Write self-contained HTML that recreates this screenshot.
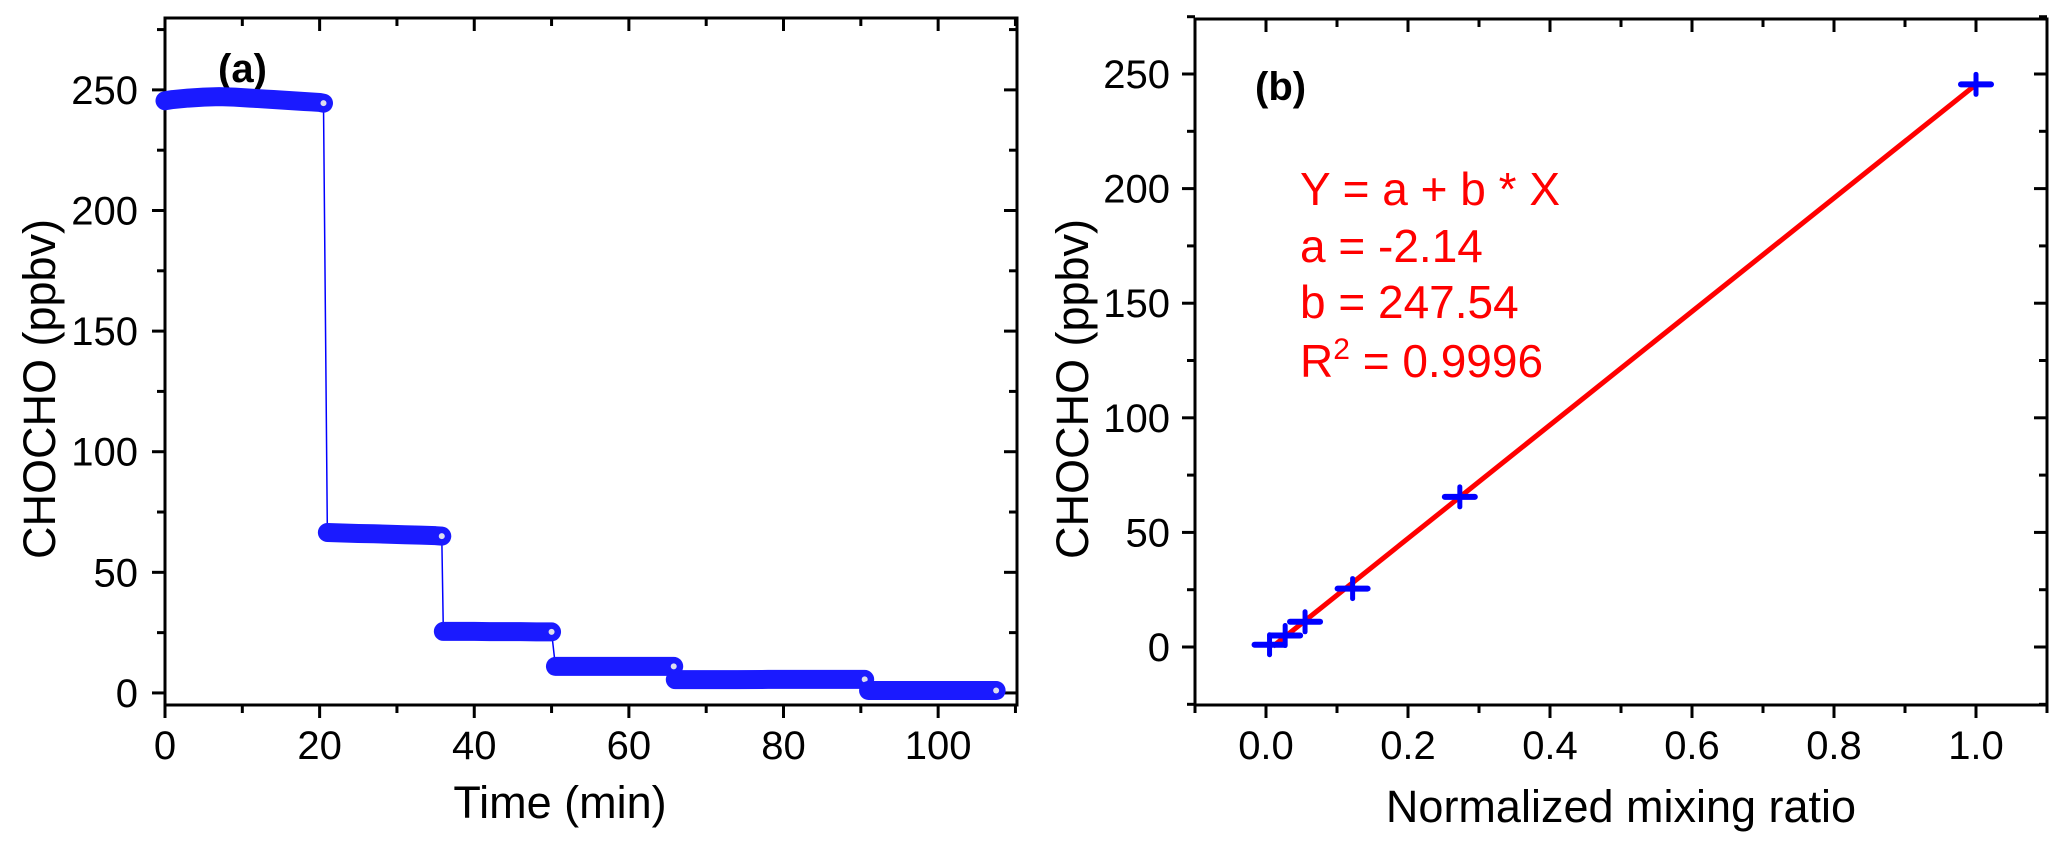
<!DOCTYPE html>
<html><head><meta charset="utf-8"><style>
body{margin:0;background:#fff;}
svg{display:block;font-family:"Liberation Sans",Arial,sans-serif;}
</style></head><body>
<svg id="chart" width="2067" height="848" viewBox="0 0 2067 848" xmlns="http://www.w3.org/2000/svg">
<rect width="2067" height="848" fill="#fff"/>
<g id="pa"></g>
<g id="pb"></g>
</svg>
<script>
// Panel (a) data: time series segments
const segT1=[0,1,2,3,4,5,6,7,8,9,10,11,12,13,14,15,16,17,18,19,20,20.5];
const segV1=[245.5,246,246.3,246.6,246.8,247,247.1,247.2,247.1,247,246.8,246.6,246.4,246.2,246,245.8,245.6,245.4,245.2,245,244.8,244.5];
const segT2=[21,23,25,27,29,31,33,35,35.8];
const segV2=[66.5,66.3,66.1,66,65.8,65.6,65.4,65.2,65];
const segT3=[36,38,40,42,44,46,48,50];
const segV3=[25.5,25.5,25.5,25.4,25.4,25.4,25.3,25.3];
const segT4=[50.5,53,56,59,62,65,65.8];
const segV4=[11,11,11,11,11,11,11];
const segT5=[66,70,74,78,82,86,90.5];
const segV5=[5.5,5.5,5.5,5.6,5.6,5.6,5.6];
const segT6=[91,94,97,100,103,106,107.5];
const segV6=[1,1,1,1,1,1,1];
const aXTicks=[0,20,40,60,80,100];
const aYTicks=[0,50,100,150,200,250];
// Panel (b) data
const bX=[0.005,0.027,0.055,0.122,0.273,1.0];
const bY=[1,5,11,25.5,65.5,245.5];
const fitA=-2.14, fitB=247.54;
const bXTicks=[0.0,0.2,0.4,0.6,0.8,1.0];
const bYTicks=[0,50,100,150,200,250];

const NS="http://www.w3.org/2000/svg";
function mk(parent,tag,attrs,text){const e=document.createElementNS(NS,tag);for(const k in attrs)e.setAttribute(k,attrs[k]);if(text!==undefined)e.textContent=text;parent.appendChild(e);return e;}
const TF=40, TT=45;

// Panel A axes
const aL=165,aR=1017,aT=18,aB=705,aX0=0,aX1=110.2,aY0=-5,aY1=279.8;
const ax=v=>aL+(v-aX0)/(aX1-aX0)*(aR-aL);
const ay=v=>aB-(v-aY0)/(aY1-aY0)*(aB-aT);
const pa=document.getElementById('pa');
function frame(g,L,R,T,B){const r=mk(g,'rect',{x:L,y:T,width:R-L,height:B-T,fill:'none',stroke:'#000','stroke-width':3});

}
frame(pa,aL,aR,aT,aB);
for(let v=0;v<=110;v+=10){const x=ax(v);const maj=v%20===0;const l=maj?13:8;
 const t1=mk(pa,'line',{x1:x,y1:aB,x2:x,y2:aB+l,stroke:'#000','stroke-width':3});
 
 
 const t2=mk(pa,'line',{x1:x,y1:aT,x2:x,y2:aT+l,stroke:'#000','stroke-width':3});
 
 }
for(let v=0;v<=275;v+=25){const y=ay(v);const maj=v%50===0;const l=maj?13:8;
 const t1=mk(pa,'line',{x1:aL-l,y1:y,x2:aL,y2:y,stroke:'#000','stroke-width':3});
 
 
 const t2=mk(pa,'line',{x1:aR-l,y1:y,x2:aR,y2:y,stroke:'#000','stroke-width':3});
 
 }
aXTicks.forEach(v=>{const t=mk(pa,'text',{x:ax(v),y:759,'font-size':TF,'text-anchor':'middle'},String(v));
 
 });
aYTicks.forEach(v=>{const t=mk(pa,'text',{x:138,y:ay(v)+14,'font-size':TF,'text-anchor':'end'},String(v));
 
 });
let tt=mk(pa,'text',{x:560,y:818,'font-size':TT,'text-anchor':'middle'},'Time (min)');


tt=mk(pa,'text',{x:0,y:0,'font-size':TT,'text-anchor':'middle',transform:'translate(55,389) rotate(-90)'},'CHOCHO (ppbv)');


tt=mk(pa,'text',{x:218,y:82,'font-size':40,'font-weight':'bold'},'(a)');


// series A
const segs=[[segT1,segV1],[segT2,segV2],[segT3,segV3],[segT4,segV4],[segT5,segV5],[segT6,segV6]];
let pts=[];segs.forEach(s=>s[0].forEach((t,i)=>pts.push(ax(t)+','+ay(s[1][i]))));
let ln=mk(pa,'polyline',{points:pts.join(' '),fill:'none',stroke:'#0000ff','stroke-width':1.5});


segs.forEach((s,k)=>{const p=s[0].map((t,i)=>ax(t)+','+ay(s[1][i])).join(' ');
 const b=mk(pa,'polyline',{points:p,fill:'none',stroke:'#1a1aff','stroke-width':19,'stroke-linecap':'round','stroke-linejoin':'round'});
 
 
 const n=s[0].length-1;
 const c=mk(pa,'circle',{cx:ax(s[0][n]),cy:ay(s[1][n]),r:3,fill:'#dde'});
 
 });

// Panel B
const bL=1195,bR=2047,bT=19,bB=705,bX0=-0.1,bX1=1.1,bY0=-25.3,bY1=274;
const bx=v=>bL+(v-bX0)/(bX1-bX0)*(bR-bL);
const by=v=>bB-(v-bY0)/(bY1-bY0)*(bB-bT);
const pb=document.getElementById('pb');
frame(pb,bL,bR,bT,bB);
for(let i=-1;i<=11;i++){const v=i/10;const x=bx(v);const maj=i%2===0;const l=maj?13:8;
 const t1=mk(pb,'line',{x1:x,y1:bB,x2:x,y2:bB+l,stroke:'#000','stroke-width':3});
 
 
 const t2=mk(pb,'line',{x1:x,y1:bT,x2:x,y2:bT+l,stroke:'#000','stroke-width':3});
 
 }
for(let v=-25;v<=275;v+=25){const y=by(v);const maj=v%50===0;const l=maj?13:8;
 const t1=mk(pb,'line',{x1:bL-l,y1:y,x2:bL,y2:y,stroke:'#000','stroke-width':3});
 
 
 const t2=mk(pb,'line',{x1:bR-l,y1:y,x2:bR,y2:y,stroke:'#000','stroke-width':3});
 
 }
bXTicks.forEach(v=>{const t=mk(pb,'text',{x:bx(v),y:759,'font-size':TF,'text-anchor':'middle'},v.toFixed(1));
 
 });
bYTicks.forEach(v=>{const t=mk(pb,'text',{x:1170,y:by(v)+14,'font-size':TF,'text-anchor':'end'},String(v));
 
 });
tt=mk(pb,'text',{x:bx(0.5),y:822,'font-size':TT,'text-anchor':'middle'},'Normalized mixing ratio');


tt=mk(pb,'text',{x:0,y:0,'font-size':TT,'text-anchor':'middle',transform:'translate(1088,389) rotate(-90)'},'CHOCHO (ppbv)');


tt=mk(pb,'text',{x:1255,y:100,'font-size':40,'font-weight':'bold'},'(b)');


// fit line
const fx0=0.01,fx1=1.0;
ln=mk(pb,'line',{x1:bx(fx0),y1:by(fitA+fitB*fx0),x2:bx(fx1),y2:by(fitA+fitB*fx1),stroke:'#ff0000','stroke-width':5});


// markers
bX.forEach((v,i)=>{const x=bx(v),y=by(bY[i]);
 const g=mk(pb,'g',{});
 
 
 mk(g,'line',{x1:x-15,y1:y,x2:x+15,y2:y,stroke:'#0000ff','stroke-width':6,'stroke-linecap':'round'});
 mk(g,'line',{x1:x,y1:y-10,x2:x,y2:y+10,stroke:'#0000ff','stroke-width':5,'stroke-linecap':'round'});});
// equation
const eq=[['Y = a + b * X',205],['a = -2.14',262],['b = 247.54',318]];
eq.forEach(e=>{const t=mk(pb,'text',{x:1300,y:e[1],'font-size':46,fill:'#ff0000'},e[0]);
 
 });
const r2=mk(pb,'text',{x:1300,y:377,'font-size':46,fill:'#ff0000'});


mk(r2,'tspan',{},'R');
mk(r2,'tspan',{dy:-18,'font-size':30},'2');
mk(r2,'tspan',{dy:18},' = 0.9996');
</script>
</body></html>
